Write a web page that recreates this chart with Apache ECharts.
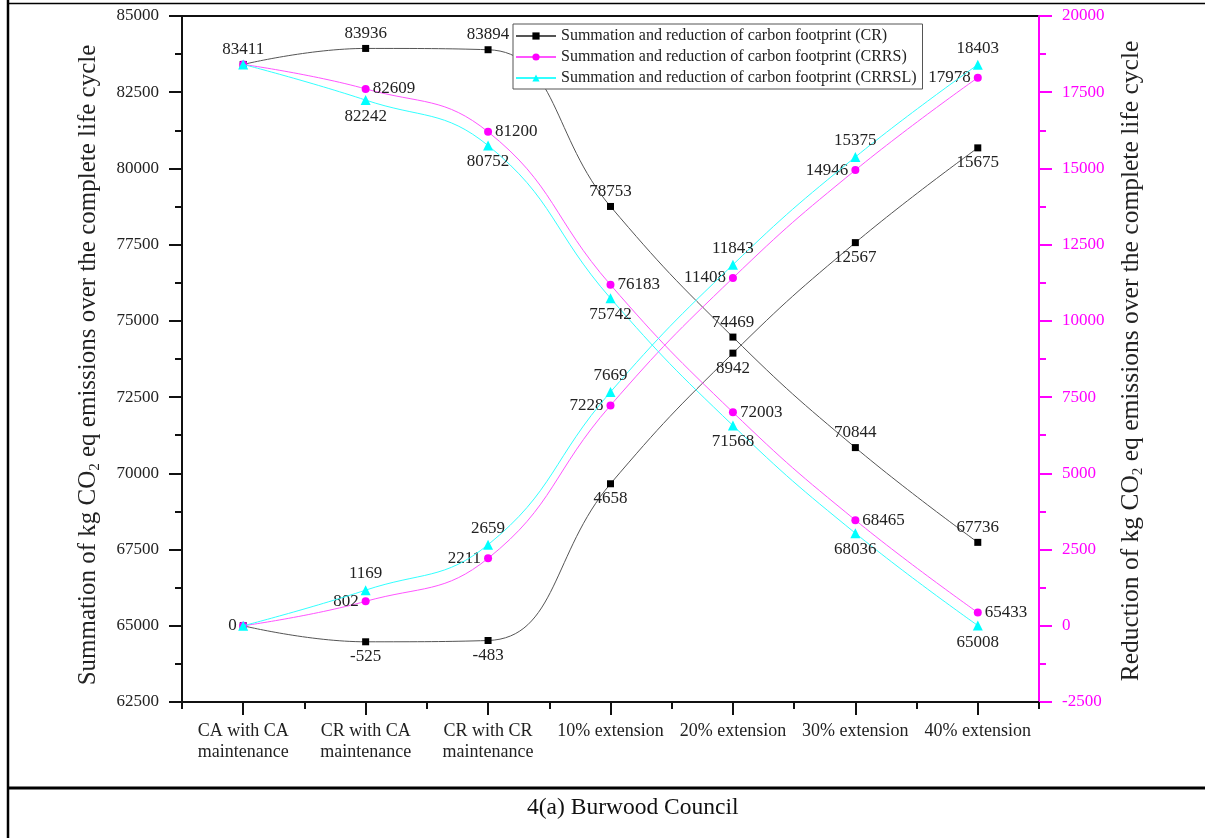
<!DOCTYPE html>
<html>
<head>
<meta charset="utf-8">
<script src="https://cdn.jsdelivr.net/npm/echarts@6/dist/echarts.min.js"></script>
<style>
html,body{margin:0;padding:0;background:#fff;}
#chart{width:1205px;height:838px;}
</style>
</head>
<body>
<div id="chart"></div>
<script>
// ---- data ----
var categories = ['CA with CA\nmaintenance', 'CR with CA\nmaintenance', 'CR with CR\nmaintenance',
  '10% extension', '20% extension', '30% extension', '40% extension'];
var crSum = [83411, 83936, 83894, 78753, 74469, 70844, 67736];
var crRed = [0, -525, -483, 4658, 8942, 12567, 15675];
var crrsSum = [83411, 82609, 81200, 76183, 72003, 68465, 65433];
var crrsRed = [0, 802, 2211, 7228, 11408, 14946, 17978];
var crrslSum = [83411, 82242, 80752, 75742, 71568, 68036, 65008];
var crrslRed = [0, 1169, 2659, 7669, 11843, 15375, 18403];
var leftTicks = {min: 62500, max: 85000, interval: 2500};
var rightTicks = {min: -2500, max: 20000, interval: 2500};
var seriesNames = ['Summation and reduction of carbon footprint (CR)',
  'Summation and reduction of carbon footprint (CRRS)',
  'Summation and reduction of carbon footprint (CRRSL)'];

// label placement (style, not data)
var FONT = 'Liberation Serif';
function withLabels(values, pos, hideFirst) {
  return values.map(function (v, i) {
    var item = {value: v};
    if (hideFirst && i === 0) {
      item.label = {show: false};
    } else {
      item.label = {show: true, position: pos};
    }
    return item;
  });
}
var labelStyle = {fontFamily: FONT, fontSize: 17, color: '#222', distance: 3,
  formatter: function (p) { return String(p.value); }};

function mkSeries(name, yIdx, values, pos, hideFirst, symbol, size, color, lineColor, z) {
  return {
    name: name, type: 'line', yAxisIndex: yIdx, xAxisIndex: 0,
    data: withLabels(values, pos, hideFirst),
    smooth: 0.45,
    symbol: symbol, symbolSize: size,
    itemStyle: {color: color},
    lineStyle: {color: lineColor, width: 1},
    label: labelStyle,
    z: z
  };
}
function plain(v) { return String(v); }

var chart = echarts.init(document.getElementById('chart'));
var option = {
  backgroundColor: '#fff',
  animation: false,
  title: {
    text: '4(a) Burwood Council', left: 522, top: 791,
    textStyle: {fontFamily: FONT, fontSize: 23.5, fontWeight: 'normal', color: '#111'}
  },
  legend: {
    orient: 'vertical', left: 513, top: 24,
    data: seriesNames,
    itemWidth: 40, itemHeight: 9, itemGap: 5,
    padding: [4, 6, 3, 2],
    borderColor: '#555', borderWidth: 1, backgroundColor: '#fff',
    textStyle: {fontFamily: FONT, fontSize: 16, color: '#222'}
  },
  grid: {
    left: 182, right: 166, top: 16, bottom: 136,
    show: true, borderColor: '#111', borderWidth: 2, backgroundColor: 'transparent'
  },
  xAxis: [{
    type: 'category', position: 'bottom', data: categories, boundaryGap: true,
    axisLine: {onZero: false, lineStyle: {color: '#111', width: 2}},
    axisTick: {show: true, interval: 0, alignWithLabel: true, length: 13, lineStyle: {color: '#111', width: 2}},
    axisLabel: {fontFamily: FONT, fontSize: 18, color: '#222', margin: 19, lineHeight: 21, interval: 0},
    splitLine: {show: false}
  }, {
    type: 'category', position: 'bottom', data: categories, boundaryGap: true,
    axisLine: {show: false, onZero: false},
    axisTick: {show: true, interval: 0, alignWithLabel: false, length: 7, lineStyle: {color: '#111', width: 2}},
    axisLabel: {show: false},
    splitLine: {show: false}
  }],
  yAxis: [{
    type: 'value', position: 'left',
    min: leftTicks.min, max: leftTicks.max, interval: leftTicks.interval,
    name: 'Summation of kg CO{sub|2} eq emissions over the complete life cycle',
    nameLocation: 'middle', nameRotate: 90, nameGap: 79,
    nameTextStyle: {fontFamily: FONT, fontSize: 25, color: '#222', lineHeight: 29, padding: [0, 12, 0, 0],
      rich: {sub: {fontFamily: FONT, fontSize: 15, color: '#222', lineHeight: 16, verticalAlign: 'bottom'}}},
    axisLine: {show: true, onZero: false, lineStyle: {color: '#111', width: 2}},
    axisTick: {show: true, length: 13, lineStyle: {color: '#111', width: 2}},
    minorTick: {show: true, splitNumber: 2, length: 7, lineStyle: {color: '#111', width: 2}},
    axisLabel: {fontFamily: FONT, fontSize: 17, color: '#222', margin: 23, formatter: plain},
    splitLine: {show: false}
  }, {
    type: 'value', position: 'right',
    min: rightTicks.min, max: rightTicks.max, interval: rightTicks.interval,
    name: 'Reduction of kg CO{sub|2} eq emissions over the complete life cycle',
    nameLocation: 'middle', nameRotate: 90, nameGap: 78,
    nameTextStyle: {fontFamily: FONT, fontSize: 25.5, color: '#222', lineHeight: 29, padding: [0, 4, 0, 0],
      rich: {sub: {fontFamily: FONT, fontSize: 15, color: '#222', lineHeight: 16, verticalAlign: 'bottom'}}},
    axisLine: {show: true, onZero: false, lineStyle: {color: '#ff00ff', width: 2}},
    axisTick: {show: true, length: 13, lineStyle: {color: '#ff00ff', width: 2}},
    minorTick: {show: true, splitNumber: 2, length: 7, lineStyle: {color: '#ff00ff', width: 2}},
    axisLabel: {fontFamily: FONT, fontSize: 17, color: '#ff00ff', margin: 23, formatter: plain},
    splitLine: {show: false}
  }],
  series: [
    mkSeries(seriesNames[0], 0, crSum, 'top', false, 'rect', 7, '#000', '#555', 3),
    mkSeries(seriesNames[0], 1, crRed, 'bottom', false, 'rect', 7, '#000', '#555', 3),
    mkSeries(seriesNames[1], 0, crrsSum, 'right', true, 'circle', 8, '#ff00ff', '#ff55ff', 4),
    mkSeries(seriesNames[1], 1, crrsRed, 'left', true, 'circle', 8, '#ff00ff', '#ff55ff', 4),
    mkSeries(seriesNames[2], 0, crrslSum, 'bottom', true, 'triangle', 10, '#00ffff', '#33ffff', 5),
    mkSeries(seriesNames[2], 1, crrslRed, 'top', true, 'triangle', 10, '#00ffff', '#33ffff', 5)
  ],
  graphic: [
    {type: 'line', shape: {x1: 8, y1: 0, x2: 8, y2: 838}, style: {stroke: '#000', lineWidth: 2.5}},
    {type: 'line', shape: {x1: 8, y1: 3.5, x2: 1205, y2: 3.5}, style: {stroke: '#000', lineWidth: 1.5}},
    {type: 'line', shape: {x1: 8, y1: 788, x2: 1205, y2: 788}, style: {stroke: '#000', lineWidth: 3}}
  ]
};
// first-point CR reduction label sits on the left
option.series[1].data[0].label = {show: true, position: 'left'};
chart.setOption(option);
</script>
</body>
</html>
